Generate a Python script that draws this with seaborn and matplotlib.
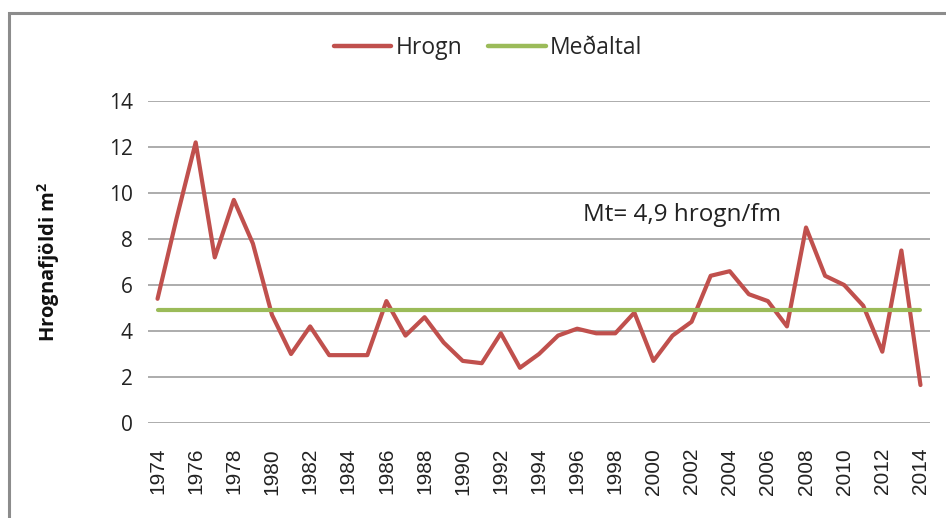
import numpy as np
import pandas as pd
import matplotlib
matplotlib.use("Agg")
import matplotlib.pyplot as plt
import matplotlib.patches as mpatches
import seaborn as sns

years = list(range(1974, 2015))
hrogn = [5.4, 8.9, 12.2, 7.2, 9.7, 7.8, 4.7, 3.0, 4.2, 2.95, 2.95, 2.95, 5.3, 3.8,
         4.6, 3.5, 2.7, 2.6, 3.9, 2.4, 3.0, 3.8, 4.1, 3.9, 3.9, 4.8, 2.7, 3.8,
         4.4, 6.4, 6.6, 5.6, 5.3, 4.2, 8.5, 6.4, 6.0, 5.1, 3.1, 7.5, 1.65]
medaltal_value = 4.9
series_names = ["Hrogn", "Meðaltal"]
y_ticks = [0, 2, 4, 6, 8, 10, 12, 14]
x_ticks = list(range(1974, 2015, 2))
y_label = "Hrognafjöldi m$^\\mathbf{2}$"
annotation = "Mt= 4,9 hrogn/fm"

df = pd.DataFrame({
    "Ár": years * 2,
    "Gildi": hrogn + [medaltal_value] * len(years),
    "Röð": [series_names[0]] * len(years) + [series_names[1]] * len(years),
})

sns.set_theme(style="white")
plt.rcParams["font.family"] = ["Open Sans", "DejaVu Sans"]
plt.rcParams["mathtext.fontset"] = "custom"
plt.rcParams["mathtext.bf"] = "Open Sans:bold"
plt.rcParams["mathtext.rm"] = "Open Sans"

W, H = 946, 518
fig = plt.figure(figsize=(W / 100, H / 100), dpi=100)
ax = fig.add_axes([148 / W, 1 - 423 / H, (930 - 148) / W, (423 - 101) / H])

palette = {"Hrogn": "#C0504D", "Meðaltal": "#9BBB59"}
sns.lineplot(data=df, x="Ár", y="Gildi", hue="Röð", palette=palette,
             linewidth=3.0, ax=ax, legend=False)

ax.set_xlim(1973.5, 2014.5)
ax.set_ylim(0, 14)
ax.set_yticks(y_ticks)
ax.set_xticks(x_ticks)
ax.set_xticklabels([str(x) for x in x_ticks], rotation=90,
                   fontfamily="Liberation Sans", fontsize=15)
ax.set_yticklabels([str(y) for y in y_ticks], fontsize=15)
ax.tick_params(axis="both", length=0, colors="#222222")
ax.tick_params(axis="y", pad=11)
ax.tick_params(axis="x", pad=18)
for s in ax.spines.values():
    s.set_visible(False)
ax.yaxis.grid(True, color="#a6a6a6", linewidth=1.3)
ax.xaxis.grid(False)
ax.set_axisbelow(True)
ax.set_xlabel("")
ax.set_ylabel(y_label, fontsize=14.5, fontweight="bold", color="#111111")
ax.yaxis.set_label_coords((62 - 148) / (930 - 148), 0.5)

ax.text(1996.3, 9.05, annotation, fontsize=17.5, va="center", ha="left",
        color="#222222")

handles = [plt.Line2D([], [], color=palette[n], lw=3.2) for n in series_names]
fig.legend(handles, series_names, loc="center", bbox_to_anchor=(488 / W, 1 - 48 / H),
           ncol=2, frameon=False, fontsize=16.5, handlelength=2.5, handletextpad=0.17,
           columnspacing=1.15)

frame = mpatches.Rectangle((8.5 / W, -0.1), 1.2, (1 - 12.5 / H) + 0.1,
                           transform=fig.transFigure, fill=False,
                           edgecolor="#8c8c8c", linewidth=2.2, clip_on=False)
fig.add_artist(frame)

fig.savefig("out.png", dpi=100)
